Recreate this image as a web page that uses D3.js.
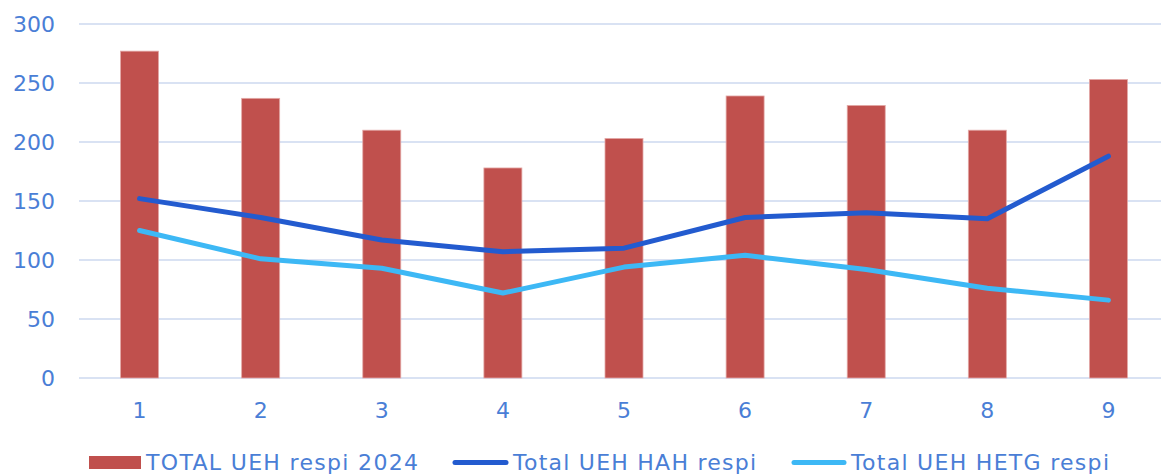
<!DOCTYPE html>
<html>
<head>
<meta charset="utf-8">
<script src="https://cdn.jsdelivr.net/npm/d3@7"></script>
<style>
  body { margin: 0; background: #fff; }
  text { font-family: Verdana, "DejaVu Sans", sans-serif; fill: #4a7ed6; }
</style>
</head>
<body>
<div id="chart"></div>
<script>
var width = 1161,
    height = 475

// data
var categories = ["1", "2", "3", "4", "5", "6", "7", "8", "9"];
var totalRespi2024 = [277, 237, 210, 178, 203, 239, 231, 210, 253];
var hahRespi = [152, 136, 117, 107, 110, 136, 140, 135, 188];
var hetgRespi = [125, 101, 93, 72, 94, 104, 92, 76, 66];
var yTicks = [0, 50, 100, 150, 200, 250, 300];
var seriesNames = ["TOTAL UEH respi 2024", "Total UEH HAH respi", "Total UEH HETG respi"];

var margin = {left: 79, top: 24, bottom: 378};

var svg = d3.select("#chart").append("svg")
    .attr("width", width)
    .attr("height", height);

var x = d3.scaleBand()
    .domain(categories)
    .range([margin.left, 1169]);

var y = d3.scaleLinear()
    .domain([0, 300])
    .range([margin.bottom, margin.top]);

// grid
svg.append("g")
  .selectAll("line")
  .data(yTicks)
  .enter()
  .append("line")
    .attr("x1", margin.left)
    .attr("x2", width)
    .attr("y1", function(d) { return y(d); })
    .attr("y2", function(d) { return y(d); })
    .style("stroke", "#d9e2f3")
    .style("stroke-width", 2);

// y labels
svg.append("g")
  .selectAll("text")
  .data(yTicks)
  .enter()
  .append("text")
    .attr("x", 55)
    .attr("y", function(d) { return y(d); })
    .attr("dy", "0.36em")
    .attr("text-anchor", "end")
    .style("font-size", "22px")
    .text(function(d) { return d; });

// x labels
svg.append("g")
  .selectAll("text")
  .data(categories)
  .enter()
  .append("text")
    .attr("x", function(d) { return x(d) + x.bandwidth() / 2; })
    .attr("y", 418)
    .attr("text-anchor", "middle")
    .style("font-size", "22px")
    .text(function(d) { return d; });

// bars
var barW = 38;
svg.append("g")
  .selectAll("rect")
  .data(totalRespi2024)
  .enter()
  .append("rect")
    .attr("x", function(d, i) { return x(categories[i]) + x.bandwidth() / 2 - barW / 2; })
    .attr("y", function(d) { return y(d); })
    .attr("width", barW)
    .attr("height", function(d) { return y(0) - y(d); })
    .style("fill", "#c0504d")
    .style("stroke", "#e3a9a7")
    .style("stroke-width", 0.8);

var line = d3.line()
    .x(function(d, i) { return x(categories[i]) + x.bandwidth() / 2; })
    .y(function(d) { return y(d); });

svg.append("path")
    .datum(hahRespi)
    .attr("d", line)
    .style("fill", "none")
    .style("stroke", "#235bcf")
    .style("stroke-width", 5)
    .style("stroke-linecap", "round")
    .style("stroke-linejoin", "round");

svg.append("path")
    .datum(hetgRespi)
    .attr("d", line)
    .style("fill", "none")
    .style("stroke", "#3db8f5")
    .style("stroke-width", 5)
    .style("stroke-linecap", "round")
    .style("stroke-linejoin", "round");

// legend
var legend = svg.append("g");
legend.append("rect")
    .attr("x", 89).attr("y", 456)
    .attr("width", 52).attr("height", 13)
    .style("fill", "#c0504d");
legend.append("text")
    .attr("x", 146).attr("y", 470)
    .style("font-size", "22px")
    .attr("textLength", 272)
    .text(seriesNames[0]);

legend.append("line")
    .attr("x1", 455).attr("x2", 506)
    .attr("y1", 462.5).attr("y2", 462.5)
    .style("stroke", "#235bcf")
    .style("stroke-width", 5)
    .style("stroke-linecap", "round");
legend.append("text")
    .attr("x", 513).attr("y", 470)
    .style("font-size", "22px")
    .attr("textLength", 243)
    .text(seriesNames[1]);

legend.append("line")
    .attr("x1", 794).attr("x2", 844)
    .attr("y1", 462.5).attr("y2", 462.5)
    .style("stroke", "#3db8f5")
    .style("stroke-width", 5)
    .style("stroke-linecap", "round");
legend.append("text")
    .attr("x", 851).attr("y", 470)
    .style("font-size", "22px")
    .attr("textLength", 258)
    .text(seriesNames[2]);
</script>
</body>
</html>
